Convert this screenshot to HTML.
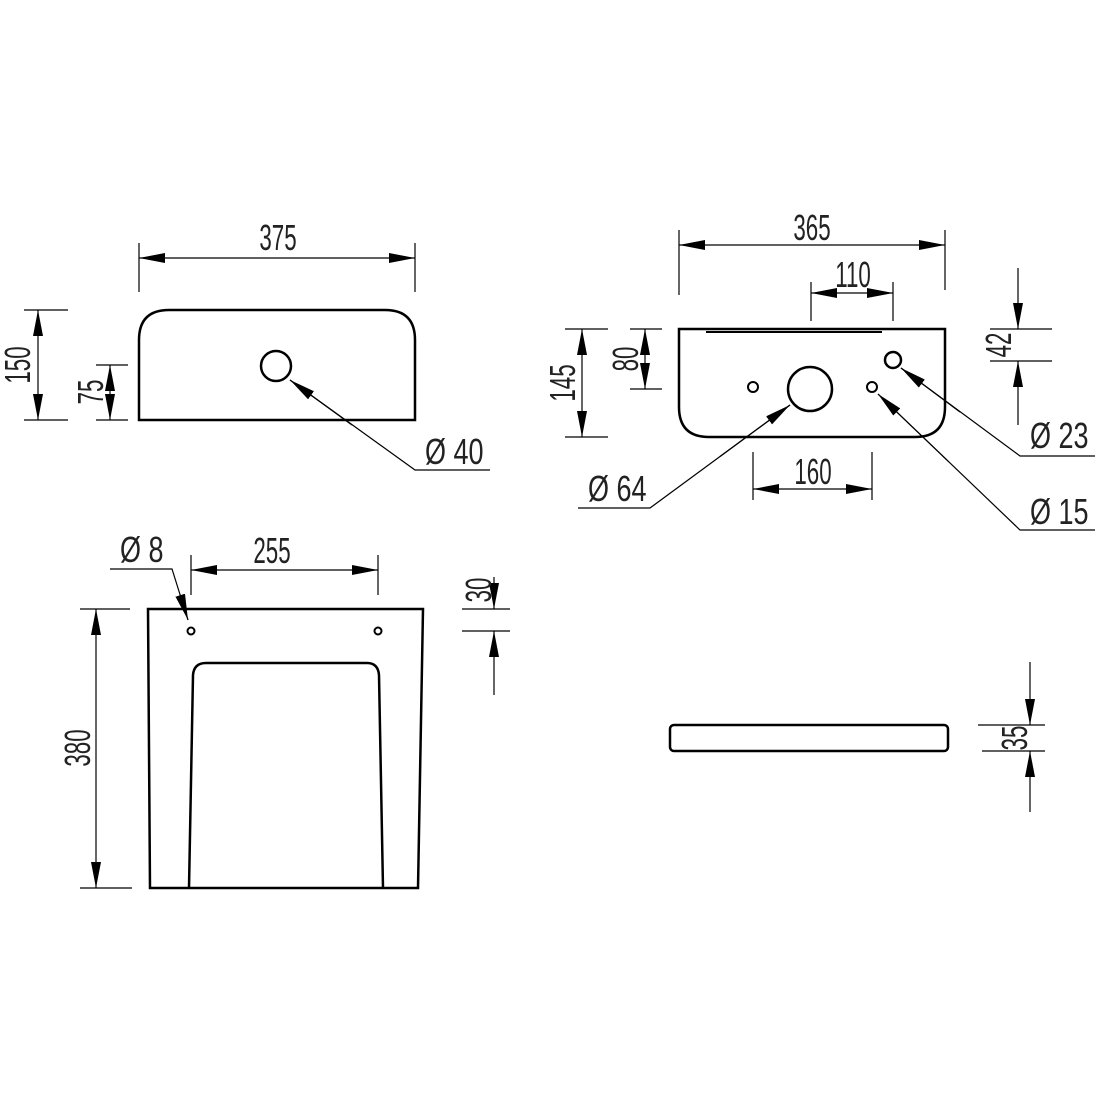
<!DOCTYPE html>
<html><head><meta charset="utf-8"><style>
html,body{margin:0;padding:0;background:#fff}
svg{display:block}
text{font-family:"Liberation Sans",sans-serif;font-size:36px;fill:#222}
</style></head><body>
<svg width="1100" height="1100" viewBox="0 0 1100 1100" xmlns="http://www.w3.org/2000/svg">
<defs>
<marker id="a" viewBox="0 0 26 10" refX="26" refY="5" markerWidth="26" markerHeight="10" markerUnits="userSpaceOnUse" orient="auto"><path d="M0,0 L26,5 L0,10 z" fill="#000"/></marker>
</defs>
<g fill="none" stroke="#000">
<!-- View 1 -->
<path d="M139,420 V340 Q139,310 169,310 H385 Q415,310 415,340 V420 Z" stroke-width="2.5"/>
<circle cx="276" cy="366" r="15" stroke-width="2.5"/>
<g stroke-width="1.2">
<line x1="139" y1="243" x2="139" y2="292"/><line x1="415" y1="243" x2="415" y2="292"/>
<line x1="24" y1="310" x2="68" y2="310"/><line x1="24" y1="420" x2="68" y2="420"/>
<line x1="96" y1="365" x2="128" y2="365"/><line x1="96" y1="420" x2="128" y2="420"/>
<polyline points="490,470 415,470 290,380"/>
</g>
<!-- View 2 -->
<path d="M679,329 H945 V407 Q945,437 915,437 H709 Q679,437 679,407 Z" stroke-width="2.5"/>
<line x1="706" y1="332" x2="882" y2="332" stroke-width="2"/>
<circle cx="810" cy="389" r="22" stroke-width="2.5"/>
<circle cx="753" cy="387" r="5" stroke-width="2"/>
<circle cx="872" cy="387" r="5" stroke-width="2"/>
<circle cx="893" cy="360" r="8" stroke-width="2.5"/>
<g stroke-width="1.2">
<line x1="679" y1="230" x2="679" y2="295"/><line x1="945" y1="230" x2="945" y2="290"/>
<line x1="811" y1="282" x2="811" y2="321"/><line x1="893" y1="282" x2="893" y2="321"/>
<line x1="565" y1="329" x2="608" y2="329"/><line x1="565" y1="437" x2="608" y2="437"/>
<line x1="630" y1="329" x2="662" y2="329"/><line x1="630" y1="389" x2="662" y2="389"/>
<line x1="990" y1="329" x2="1052" y2="329"/><line x1="990" y1="361" x2="1052" y2="361"/>
<line x1="753" y1="452" x2="753" y2="500"/><line x1="872" y1="452" x2="872" y2="500"/>
<polyline points="578,508 650,508 790,405"/>
<polyline points="1095,530 1020,530 878,394"/>
<polyline points="1095,456 1020,456 901,368"/>
</g>
<!-- View 3 -->
<path d="M148,609 H423 L418,888 H150 Z" stroke-width="2.5"/>
<path d="M189,888 L193,675 Q194,663 206,663 H367 Q378,663 379,675 L383,888" stroke-width="2.5"/>
<circle cx="191" cy="631" r="3.5" stroke-width="2"/>
<circle cx="378" cy="631" r="3.5" stroke-width="2"/>
<g stroke-width="1.2">
<line x1="191" y1="555" x2="191" y2="595"/><line x1="378" y1="555" x2="378" y2="595"/>
<line x1="80" y1="609" x2="130" y2="609"/><line x1="80" y1="888" x2="132" y2="888"/>
<line x1="462" y1="609" x2="510" y2="609"/><line x1="462" y1="631" x2="510" y2="631"/>
<polyline points="110,569 172,569 188,620"/>
</g>
<!-- View 4 -->
<rect x="670" y="725" width="278" height="26" rx="4" stroke-width="2.5"/>
<g stroke-width="1.2">
<line x1="978" y1="725" x2="1045" y2="725"/><line x1="982" y1="751" x2="1045" y2="751"/>
</g>
</g>
<!-- arrows -->
<g stroke="#000" stroke-width="1.2" fill="none">
<line x1="277" y1="258" x2="139" y2="258" marker-end="url(#a)"/>
<line x1="277" y1="258" x2="415" y2="258" marker-end="url(#a)"/>
<line x1="38" y1="365" x2="38" y2="310" marker-end="url(#a)"/>
<line x1="38" y1="365" x2="38" y2="420" marker-end="url(#a)"/>
<line x1="110" y1="392" x2="110" y2="365" marker-end="url(#a)"/>
<line x1="110" y1="392" x2="110" y2="420" marker-end="url(#a)"/>
<line x1="352" y1="425" x2="290" y2="380" marker-end="url(#a)"/>
<line x1="812" y1="245" x2="679" y2="245" marker-end="url(#a)"/>
<line x1="812" y1="245" x2="945" y2="245" marker-end="url(#a)"/>
<line x1="852" y1="293" x2="811" y2="293" marker-end="url(#a)"/>
<line x1="852" y1="293" x2="893" y2="293" marker-end="url(#a)"/>
<line x1="582" y1="383" x2="582" y2="329" marker-end="url(#a)"/>
<line x1="582" y1="383" x2="582" y2="437" marker-end="url(#a)"/>
<line x1="645" y1="359" x2="645" y2="329" marker-end="url(#a)"/>
<line x1="645" y1="359" x2="645" y2="389" marker-end="url(#a)"/>
<line x1="1018" y1="268" x2="1018" y2="329" marker-end="url(#a)"/>
<line x1="1018" y1="425" x2="1018" y2="361" marker-end="url(#a)"/>
<line x1="812" y1="489" x2="753" y2="489" marker-end="url(#a)"/>
<line x1="812" y1="489" x2="872" y2="489" marker-end="url(#a)"/>
<line x1="720" y1="456.5" x2="790" y2="405" marker-end="url(#a)"/>
<line x1="949" y1="462" x2="878" y2="394" marker-end="url(#a)"/>
<line x1="960" y1="412" x2="901" y2="368" marker-end="url(#a)"/>
<line x1="284" y1="570" x2="191" y2="570" marker-end="url(#a)"/>
<line x1="284" y1="570" x2="378" y2="570" marker-end="url(#a)"/>
<line x1="96" y1="748" x2="96" y2="609" marker-end="url(#a)"/>
<line x1="96" y1="748" x2="96" y2="888" marker-end="url(#a)"/>
<line x1="180" y1="594.5" x2="188" y2="620" marker-end="url(#a)"/>
<line x1="494" y1="577" x2="494" y2="609" marker-end="url(#a)"/>
<line x1="494" y1="695" x2="494" y2="631" marker-end="url(#a)"/>
<line x1="1030" y1="662" x2="1030" y2="725" marker-end="url(#a)"/>
<line x1="1030" y1="812" x2="1030" y2="751" marker-end="url(#a)"/>
</g>
<!-- texts -->
<g>
<text transform="translate(278,250) scale(0.62,1)" text-anchor="middle">375</text>
<text transform="translate(30,365) rotate(-90) scale(0.62,1)" text-anchor="middle">150</text>
<text transform="translate(103,392) rotate(-90) scale(0.62,1)" text-anchor="middle">75</text>
<text transform="translate(425,464) scale(0.75,1)">Ø 40</text>
<text transform="translate(812,240) scale(0.62,1)" text-anchor="middle">365</text>
<text transform="translate(853,287) scale(0.62,1)" text-anchor="middle">110</text>
<text transform="translate(575,383) rotate(-90) scale(0.62,1)" text-anchor="middle">145</text>
<text transform="translate(638,359) rotate(-90) scale(0.62,1)" text-anchor="middle">80</text>
<text transform="translate(1011,345) rotate(-90) scale(0.62,1)" text-anchor="middle">42</text>
<text transform="translate(813,484) scale(0.62,1)" text-anchor="middle">160</text>
<text transform="translate(588,501) scale(0.75,1)">Ø 64</text>
<text transform="translate(1030,448) scale(0.75,1)">Ø 23</text>
<text transform="translate(1030,524) scale(0.75,1)">Ø 15</text>
<text transform="translate(120,562) scale(0.75,1)">Ø 8</text>
<text transform="translate(272,563) scale(0.62,1)" text-anchor="middle">255</text>
<text transform="translate(90,748) rotate(-90) scale(0.62,1)" text-anchor="middle">380</text>
<text transform="translate(491,590) rotate(-90) scale(0.62,1)" text-anchor="middle">30</text>
<text transform="translate(1027,738) rotate(-90) scale(0.62,1)" text-anchor="middle">35</text>
</g>
</svg>
</body></html>
